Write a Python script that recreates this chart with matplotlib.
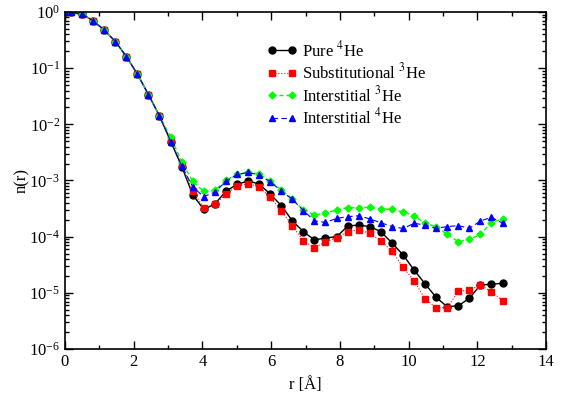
import numpy as np
import matplotlib
matplotlib.use("Agg")
import matplotlib.pyplot as plt
from matplotlib.ticker import LogLocator, MultipleLocator, NullFormatter

plt.rcParams["font.family"] = ["Liberation Serif", "DejaVu Serif"]
plt.rcParams["mathtext.fontset"] = "stix"

r = [0.0, 0.17, 0.50, 0.82, 1.14, 1.47, 1.79, 2.11, 2.43, 2.75, 3.08, 3.40,
     3.72, 4.04, 4.36, 4.69, 5.01, 5.33, 5.65, 5.97, 6.30, 6.62, 6.94, 7.26,
     7.58, 7.91, 8.23, 8.55, 8.87, 9.19, 9.52, 9.84, 10.16, 10.48, 10.80,
     11.12, 11.45, 11.77, 12.09, 12.41, 12.74]

head = [1.0, 0.98, 0.91, 0.70, 0.478, 0.296, 0.160, 0.0778, 0.0337, 0.0141]

pure4 = head + [4.91e-3, 1.76e-3, 5.52e-4, 3.05e-4, 3.82e-4, 6.5e-4, 8.55e-4,
                9.8e-4, 8.67e-4, 5.75e-4, 3.56e-4, 1.90e-4, 1.23e-4, 8.73e-5,
                9.48e-5, 1.0e-4, 1.55e-4, 1.61e-4, 1.51e-4, 1.23e-4, 7.71e-5,
                4.72e-5, 2.55e-5, 1.44e-5, 8.34e-6, 5.66e-6, 5.9e-6, 8.0e-6,
                1.38e-5, 1.42e-5, 1.48e-5]
subs3 = head + [5.26e-3, 1.89e-3, 6.5e-4, 3.24e-4, 3.77e-4, 5.75e-4, 8.09e-4,
                8.67e-4, 7.76e-4, 5.02e-4, 2.90e-4, 1.55e-4, 8.38e-5, 6.41e-5,
                7.98e-5, 9.66e-5, 1.23e-4, 1.32e-4, 1.15e-4, 8.38e-5, 5.56e-5,
                2.83e-5, 1.64e-5, 7.77e-6, 5.45e-6, 5.45e-6, 1.07e-5, 1.12e-5,
                1.38e-5, 1.05e-5, 7.24e-6]
inter3 = head + [5.87e-3, 2.14e-3, 9.6e-4, 6.37e-4, 6.64e-4, 1.02e-3, 1.28e-3,
                 1.39e-3, 1.31e-3, 9.8e-4, 6.78e-4, 4.69e-4, 2.99e-4, 2.43e-4,
                 2.64e-4, 2.99e-4, 3.28e-4, 3.28e-4, 3.33e-4, 3.11e-4, 3.07e-4,
                 2.75e-4, 2.36e-4, 1.73e-4, 1.51e-4, 1.10e-4, 8.14e-5, 8.98e-5,
                 1.10e-4, 1.77e-4, 2.09e-4]
inter4 = head + [4.91e-3, 1.81e-3, 7.66e-4, 5.15e-4, 6.24e-4, 9.68e-4, 1.28e-3,
                 1.39e-3, 1.25e-3, 9.52e-4, 6.5e-4, 4.59e-4, 2.90e-4, 1.92e-4,
                 1.79e-4, 2.12e-4, 2.27e-4, 2.36e-4, 2.07e-4, 1.77e-4, 1.51e-4,
                 1.40e-4, 1.73e-4, 1.61e-4, 1.41e-4, 1.51e-4, 1.57e-4, 1.41e-4,
                 1.90e-4, 2.21e-4, 1.73e-4]

fig = plt.figure(figsize=(5.7, 3.96), dpi=100)
ax = fig.add_axes([0.114, 0.1187, 0.844, 0.851])

ax.plot(r, pure4, color="black", lw=1.0, ls="-", marker="o", ms=5,
        label="Pure $^{4}$He")
ax.plot(r, subs3, color="red", lw=0.8, ls=":", marker="s", ms=4.5,
        label="Substitutional $^{3}$He")
ax.plot(r, inter3, color="#00ff00", lw=1.0, ls=(0, (3, 2)), marker="D", ms=3.5,
        label="Interstitial $^{3}$He")
ax.plot(r, inter4, color="blue", lw=0.8, ls=(0, (5, 3)), marker="^", ms=5,
        label="Interstitial $^{4}$He")

ax.set_yscale("log")
ax.set_xlim(0, 14)
ax.set_ylim(1e-6, 1)
ax.xaxis.set_major_locator(MultipleLocator(2))
ax.xaxis.set_minor_locator(MultipleLocator(1))
ax.yaxis.set_major_locator(LogLocator(base=10, numticks=10))
ax.yaxis.set_minor_locator(LogLocator(base=10, subs=np.arange(2, 10), numticks=20))
ax.yaxis.set_minor_formatter(NullFormatter())
ax.tick_params(which="both", direction="in", top=True, right=True, labelsize=12)
ax.tick_params(which="major", length=6, width=1)
ax.tick_params(which="minor", length=3, width=1)
for s in ax.spines.values():
    s.set_linewidth(1.2)

ax.set_xlabel("r [Å]", fontsize=12, labelpad=5)
ax.set_ylabel("n(r)", fontsize=12)
ax.yaxis.set_label_coords(-0.073, 0.5)

ax.legend(loc="upper left", bbox_to_anchor=(0.406, 0.936), frameon=False,
          numpoints=2, fontsize=12, handlelength=1.8, handletextpad=0.3,
          labelspacing=0.15, borderaxespad=0)

fig.savefig("out.png", dpi=100)
